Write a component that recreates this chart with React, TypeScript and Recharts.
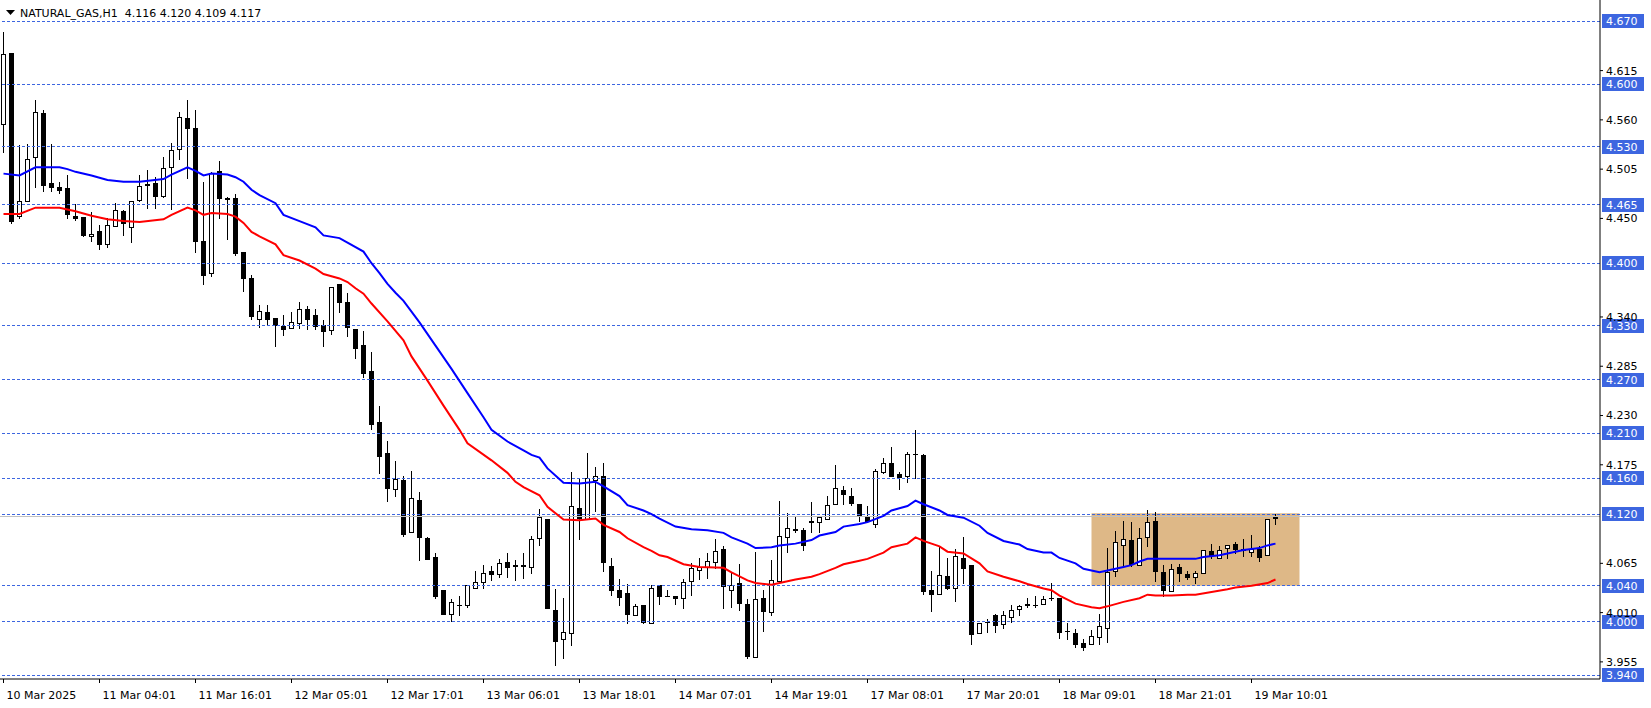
import React from 'react';
import {
  ComposedChart,
  Bar,
  Line,
  XAxis,
  YAxis,
  ReferenceLine,
  ReferenceArea,
} from 'recharts';

// hourly OHLC, bar 0 = 10 Mar 16:01
const opens = [
  4.555, 4.635, 4.453, 4.470, 4.518, 4.568, 4.490, 4.485, 4.484, 4.453,
  4.452, 4.430, 4.436, 4.421, 4.442, 4.458, 4.440, 4.471, 4.488, 4.490,
  4.475, 4.507, 4.527, 4.562, 4.551, 4.425, 4.389, 4.503, 4.473, 4.473,
  4.412, 4.383, 4.338, 4.345, 4.339, 4.330, 4.328, 4.333, 4.349, 4.342,
  4.331, 4.325, 4.377, 4.357, 4.327, 4.309, 4.280, 4.223, 4.188, 4.148,
  4.158, 4.100, 4.136, 4.093, 4.072, 4.035, 4.009, 4.018, 4.019, 4.038,
  4.044, 4.056, 4.053, 4.066, 4.063, 4.062, 4.061, 4.093, 4.115, 4.013,
  3.980, 3.987, 4.127, 4.115, 4.158, 4.163, 4.062, 4.035, 4.032, 4.007,
  4.018, 3.998, 4.041, 4.029, 4.029, 4.026, 4.045, 4.058, 4.061, 4.066,
  4.081, 4.035, 4.043, 4.020, 3.961, 4.026, 4.011, 4.045, 4.094, 4.103,
  4.102, 4.112, 4.111, 4.115, 4.131, 4.147, 4.140, 4.131, 4.118, 4.109,
  4.167, 4.177, 4.165, 4.162, 4.187, 4.186, 4.035, 4.031, 4.051, 4.037,
  4.071, 4.063, 3.987, 4.000, 4.007, 3.997, 4.005, 4.014, 4.020, 4.018,
  4.020, 4.026, 4.026, 3.989, 3.987, 3.976, 3.975, 3.983, 3.993, 4.056,
  4.086, 4.091, 4.063, 4.094, 4.112, 4.055, 4.034, 4.061, 4.053, 4.050,
  4.054, 4.079, 4.071, 4.082, 4.087, 4.081, 4.078, 4.081, 4.074, 4.116,
];
const highs = [
  4.658, 4.635, 4.532, 4.533, 4.582, 4.571, 4.533, 4.491, 4.498, 4.466,
  4.452, 4.457, 4.443, 4.450, 4.467, 4.459, 4.470, 4.498, 4.504, 4.496,
  4.519, 4.534, 4.569, 4.582, 4.571, 4.491, 4.502, 4.514, 4.474, 4.477,
  4.412, 4.387, 4.353, 4.353, 4.339, 4.342, 4.346, 4.357, 4.352, 4.349,
  4.337, 4.374, 4.377, 4.367, 4.327, 4.324, 4.301, 4.241, 4.202, 4.179,
  4.162, 4.168, 4.145, 4.094, 4.077, 4.035, 4.025, 4.029, 4.041, 4.057,
  4.063, 4.062, 4.070, 4.077, 4.069, 4.077, 4.096, 4.126, 4.115, 4.036,
  4.026, 4.167, 4.159, 4.188, 4.172, 4.177, 4.071, 4.048, 4.042, 4.020,
  4.018, 4.041, 4.041, 4.035, 4.029, 4.048, 4.065, 4.071, 4.076, 4.092,
  4.084, 4.055, 4.064, 4.025, 4.078, 4.035, 4.069, 4.135, 4.121, 4.117,
  4.104, 4.134, 4.117, 4.140, 4.175, 4.151, 4.149, 4.131, 4.129, 4.170,
  4.183, 4.195, 4.167, 4.189, 4.214, 4.187, 4.057, 4.084, 4.071, 4.081,
  4.094, 4.063, 3.998, 4.003, 4.008, 4.012, 4.019, 4.019, 4.026, 4.028,
  4.028, 4.043, 4.026, 3.998, 3.992, 3.980, 3.991, 4.009, 4.082, 4.101,
  4.112, 4.111, 4.104, 4.125, 4.122, 4.063, 4.064, 4.064, 4.056, 4.057,
  4.080, 4.087, 4.084, 4.086, 4.089, 4.092, 4.097, 4.084, 4.115, 4.120,
];
const lows = [
  4.524, 4.445, 4.451, 4.469, 4.485, 4.481, 4.481, 4.478, 4.451, 4.448,
  4.430, 4.425, 4.416, 4.418, 4.441, 4.432, 4.424, 4.470, 4.462, 4.462,
  4.474, 4.460, 4.516, 4.495, 4.412, 4.377, 4.386, 4.451, 4.427, 4.409,
  4.369, 4.338, 4.329, 4.331, 4.308, 4.320, 4.328, 4.328, 4.327, 4.327,
  4.308, 4.321, 4.346, 4.319, 4.294, 4.273, 4.215, 4.166, 4.135, 4.140,
  4.096, 4.100, 4.069, 4.070, 4.026, 4.008, 4.001, 4.007, 4.016, 4.038,
  4.038, 4.046, 4.050, 4.050, 4.046, 4.049, 4.054, 4.086, 4.015, 3.952,
  3.959, 3.974, 4.092, 4.115, 4.123, 4.056, 4.030, 4.018, 3.998, 4.007,
  3.998, 3.998, 4.020, 4.028, 4.020, 4.015, 4.030, 4.048, 4.049, 4.060,
  4.015, 4.016, 4.013, 3.959, 3.960, 3.990, 4.007, 4.045, 4.078, 4.100,
  4.080, 4.100, 4.100, 4.115, 4.131, 4.131, 4.130, 4.112, 4.112, 4.106,
  4.166, 4.162, 4.148, 4.156, 4.160, 4.031, 4.012, 4.031, 4.036, 4.023,
  4.043, 3.975, 3.987, 3.988, 3.988, 3.993, 4.000, 4.007, 4.016, 4.016,
  4.020, 4.024, 3.982, 3.981, 3.972, 3.968, 3.975, 3.975, 3.977, 4.051,
  4.062, 4.062, 4.063, 4.084, 4.045, 4.029, 4.034, 4.045, 4.048, 4.043,
  4.054, 4.071, 4.071, 4.071, 4.076, 4.073, 4.073, 4.068, 4.074, 4.109,
];
const closes = [
  4.634, 4.447, 4.470, 4.516, 4.569, 4.487, 4.485, 4.482, 4.455, 4.450,
  4.432, 4.433, 4.422, 4.443, 4.459, 4.445, 4.470, 4.486, 4.487, 4.475,
  4.506, 4.526, 4.563, 4.551, 4.425, 4.387, 4.501, 4.473, 4.472, 4.411,
  4.384, 4.341, 4.347, 4.338, 4.331, 4.327, 4.334, 4.349, 4.338, 4.330,
  4.324, 4.374, 4.357, 4.329, 4.305, 4.278, 4.221, 4.185, 4.149, 4.159,
  4.098, 4.138, 4.094, 4.070, 4.028, 4.008, 4.022, 4.018, 4.041, 4.044,
  4.054, 4.053, 4.065, 4.061, 4.062, 4.063, 4.092, 4.117, 4.015, 3.978,
  3.988, 4.129, 4.116, 4.160, 4.162, 4.066, 4.035, 4.027, 4.008, 4.017,
  3.999, 4.038, 4.028, 4.029, 4.026, 4.044, 4.060, 4.061, 4.068, 4.079,
  4.040, 4.041, 4.021, 3.962, 4.025, 4.012, 4.046, 4.096, 4.104, 4.102,
  4.086, 4.111, 4.117, 4.130, 4.149, 4.142, 4.132, 4.119, 4.112, 4.168,
  4.177, 4.162, 4.161, 4.187, 4.187, 4.034, 4.031, 4.052, 4.038, 4.073,
  4.060, 3.986, 3.998, 4.000, 3.996, 4.007, 4.013, 4.017, 4.018, 4.019,
  4.025, 4.026, 3.988, 3.989, 3.975, 3.972, 3.984, 3.995, 4.055, 4.089,
  4.092, 4.064, 4.093, 4.111, 4.056, 4.035, 4.059, 4.054, 4.050, 4.054,
  4.080, 4.074, 4.080, 4.085, 4.081, 4.080, 4.081, 4.072, 4.115, 4.117,
];

// moving averages: [bar, price]
const blueMa: [number, number][] = [
  [0, 4.500], [2, 4.498], [4, 4.507], [7, 4.507], [8, 4.505], [9, 4.502],
  [11, 4.498], [13, 4.493], [15, 4.491], [17, 4.491], [20, 4.494], [21, 4.499],
  [23, 4.507], [24, 4.503], [25, 4.498], [26, 4.500], [28, 4.499], [29, 4.496],
  [30, 4.491], [31, 4.482], [32, 4.476], [34, 4.467], [35, 4.454], [37, 4.447],
  [39, 4.440], [40, 4.431], [42, 4.428], [43, 4.423], [45, 4.413], [46, 4.400],
  [47, 4.389], [48, 4.377], [49, 4.367], [50, 4.358], [52, 4.334], [54, 4.308],
  [56, 4.282], [58, 4.255], [60, 4.228], [61, 4.214], [63, 4.201], [65, 4.191],
  [66, 4.186], [67, 4.183], [68, 4.171], [70, 4.155], [72, 4.154], [74, 4.156],
  [75, 4.151], [77, 4.140], [78, 4.130], [80, 4.124], [81, 4.120], [82, 4.115],
  [84, 4.106], [86, 4.103], [88, 4.102], [90, 4.099], [91, 4.094], [93, 4.087],
  [94, 4.082], [96, 4.083], [97, 4.085], [99, 4.087], [101, 4.091], [102, 4.096],
  [104, 4.100], [105, 4.106], [107, 4.109], [108, 4.111], [110, 4.118], [111, 4.124],
  [113, 4.129], [114, 4.135], [115, 4.131], [117, 4.124], [118, 4.119], [120, 4.116],
  [122, 4.107], [123, 4.099], [125, 4.090], [127, 4.086], [128, 4.081], [130, 4.077],
  [131, 4.077], [132, 4.071], [134, 4.065], [135, 4.059], [137, 4.055], [138, 4.057],
  [140, 4.061], [141, 4.063], [142, 4.067], [143, 4.070], [145, 4.070], [147, 4.070],
  [149, 4.070], [150, 4.072], [152, 4.074], [153, 4.076], [154, 4.078], [155, 4.080],
  [157, 4.082], [158, 4.085], [159, 4.087],
];
const redMa: [number, number][] = [
  [0, 4.455], [2, 4.455], [4, 4.462], [7, 4.462], [8, 4.460], [9, 4.458],
  [11, 4.453], [13, 4.449], [15, 4.447], [17, 4.446], [20, 4.449], [21, 4.454],
  [23, 4.462], [24, 4.459], [25, 4.454], [26, 4.456], [28, 4.455], [29, 4.452],
  [30, 4.445], [31, 4.435], [32, 4.430], [34, 4.421], [35, 4.409], [37, 4.403],
  [39, 4.394], [40, 4.388], [42, 4.383], [43, 4.379], [44, 4.372], [45, 4.366],
  [46, 4.355], [48, 4.335], [50, 4.314], [51, 4.296], [53, 4.269], [55, 4.241],
  [57, 4.214], [58, 4.199], [61, 4.180], [63, 4.166], [64, 4.156], [65, 4.150],
  [67, 4.141], [68, 4.128], [70, 4.114], [72, 4.113], [74, 4.115], [75, 4.108],
  [77, 4.100], [78, 4.093], [80, 4.083], [81, 4.079], [82, 4.074], [83, 4.072],
  [85, 4.064], [87, 4.061], [90, 4.060], [91, 4.055], [93, 4.046], [94, 4.043],
  [96, 4.041], [97, 4.043], [99, 4.047], [101, 4.050], [102, 4.053], [104, 4.060],
  [105, 4.064], [107, 4.068], [108, 4.070], [110, 4.077], [111, 4.083], [113, 4.087],
  [114, 4.094], [115, 4.090], [117, 4.084], [118, 4.078], [120, 4.076], [122, 4.065],
  [123, 4.056], [125, 4.050], [127, 4.045], [128, 4.042], [130, 4.037], [131, 4.035],
  [132, 4.029], [134, 4.020], [136, 4.016], [137, 4.015], [138, 4.017], [140, 4.022],
  [142, 4.026], [143, 4.030], [144, 4.029], [146, 4.029], [148, 4.030], [149, 4.030],
  [151, 4.033], [153, 4.036], [154, 4.038], [156, 4.040], [158, 4.043], [159, 4.047],
];

const levels = [4.670, 4.600, 4.530, 4.465, 4.400, 4.330, 4.270, 4.210, 4.160, 4.120, 4.040, 4.000, 3.940];
const priceTicks = [4.615, 4.560, 4.505, 4.450, 4.340, 4.285, 4.230, 4.175, 4.065, 4.010, 3.955];
const timeTicks = [0, 12, 24, 36, 48, 60, 72, 84, 96, 108, 120, 132, 144, 156];
const timeLabels = [
  '10 Mar 2025', '11 Mar 04:01', '11 Mar 16:01', '12 Mar 05:01', '12 Mar 17:01',
  '13 Mar 06:01', '13 Mar 18:01', '14 Mar 07:01', '14 Mar 19:01', '17 Mar 08:01',
  '17 Mar 20:01', '18 Mar 09:01', '18 Mar 21:01', '19 Mar 10:01',
];
const bidPrice = 4.117;
const box = { from: 136, to: 162, low: 4.040, high: 4.121 };

const FONT = 'DejaVu Sans, sans-serif';
const LEVEL_BLUE = '#3D66E0';

const rows = opens.map((o, i) => ({
  i,
  o,
  h: highs[i],
  l: lows[i],
  c: closes[i],
  range: [lows[i], highs[i]],
  blue: null as number | null,
  red: null as number | null,
}));
blueMa.forEach(([i, v]) => { rows[i].blue = v; });
redMa.forEach(([i, v]) => { rows[i].red = v; });

const Candle = (props: any) => {
  const { x, y, width, height, payload } = props;
  if (x == null || y == null || !payload) return null;
  const { o, h, l, c } = payload;
  const top = Math.min(y, y + height);
  const hPx = Math.abs(height);
  const span = h - l;
  const py = (v: number) => (span > 0 ? top + ((h - v) / span) * hPx : top);
  const mid = Math.floor(x + width / 2) + 0.5;
  const left = Math.round(x);
  const w = Math.round(width);
  const yo = Math.round(py(o));
  const yc = Math.round(py(c));
  const bTop = Math.min(yo, yc);
  const bBot = Math.max(yo, yc);
  const bull = c >= o;
  return (
    <g>
      <line x1={mid} x2={mid} y1={Math.round(py(h))} y2={Math.round(py(l)) + 1} stroke="#000" strokeWidth={1} />
      {bBot - bTop < 1 ? (
        <line x1={left} x2={left + w} y1={bTop + 0.5} y2={bTop + 0.5} stroke="#000" strokeWidth={1} />
      ) : bull ? (
        <rect x={left + 0.5} y={bTop + 0.5} width={w - 1} height={bBot - bTop} fill="#fff" stroke="#000" strokeWidth={1} />
      ) : (
        <rect x={left} y={bTop} width={w} height={bBot - bTop + 1} fill="#000" />
      )}
    </g>
  );
};

const LevelTag = (props: any) => {
  const vb = props.viewBox || {};
  const x = (vb.x ?? 0) + (vb.width ?? 0) + 2;
  const y = Math.round(vb.y ?? 0);
  return (
    <g>
      <rect x={x} y={y - 7} width={42} height={14} fill={LEVEL_BLUE} />
      <text x={x + 4} y={y + 4} fill="#fff" fontSize={11} fontFamily={FONT}>{props.text}</text>
    </g>
  );
};

const TimeTick = (props: any) => {
  const { x, y, payload } = props;
  const idx = timeTicks.indexOf(payload.value);
  return (
    <g>
      <line x1={x} x2={x} y1={y} y2={y + 4} stroke="#000" />
      <text x={x + 3} y={y + 20} fontSize={11} fontFamily={FONT} fill="#000">{timeLabels[idx]}</text>
    </g>
  );
};

export default function App() {
  return (
    <div style={{ position: 'absolute', left: 0, top: 0, width: 1651, height: 708, background: '#fff' }}>
      <ComposedChart width={1651} height={708} data={rows} margin={{ top: 0, right: 0, bottom: 0, left: 0 }}>
        <XAxis
          dataKey="i"
          type="number"
          domain={[-0.4375, 199.5625]}
          allowDataOverflow
          ticks={timeTicks}
          tick={<TimeTick />}
          tickLine={false}
          tickSize={0}
          tickMargin={0}
          height={29}
          axisLine={{ stroke: '#000' }}
          interval={0}
        />
        <YAxis
          orientation="right"
          type="number"
          domain={[3.9359, 4.6938]}
          allowDataOverflow
          ticks={priceTicks}
          tickFormatter={(v: number) => v.toFixed(3)}
          tick={{ fontSize: 11, fontFamily: FONT, fill: '#000' }}
          tickLine={{ stroke: '#000' }}
          tickSize={3}
          tickMargin={3}
          width={51}
          axisLine={{ stroke: '#000' }}
          interval={0}
        />
        <ReferenceArea
          x1={box.from}
          x2={box.to}
          y1={box.low}
          y2={box.high}
          fill="#DEB887"
          fillOpacity={1}
          stroke="none"
        />
        {levels.map((lv) => (
          <ReferenceLine
            key={lv}
            y={lv}
            stroke={LEVEL_BLUE}
            strokeDasharray="3 2"
            shapeRendering="crispEdges"
            label={<LevelTag text={lv.toFixed(3)} />}
          />
        ))}
        <ReferenceLine y={bidPrice} stroke="#C0C0C0" shapeRendering="crispEdges" />
        <Bar dataKey="range" barSize={5} shape={<Candle />} isAnimationActive={false} />
        <Line dataKey="red" stroke="#FF0000" strokeWidth={2} dot={false} activeDot={false} connectNulls isAnimationActive={false} />
        <Line dataKey="blue" stroke="#0000FF" strokeWidth={2} dot={false} activeDot={false} connectNulls isAnimationActive={false} />
      </ComposedChart>
      <svg width={320} height={24} style={{ position: 'absolute', left: 0, top: 0 }}>
        <polygon points="6,10 15,10 10.5,15" fill="#000" />
        <text x={20} y={17} fontSize={11} fontFamily={FONT} fill="#000" xmlSpace="preserve">
          {'NATURAL_GAS,H1  4.116 4.120 4.109 4.117'}
        </text>
      </svg>
    </div>
  );
}
